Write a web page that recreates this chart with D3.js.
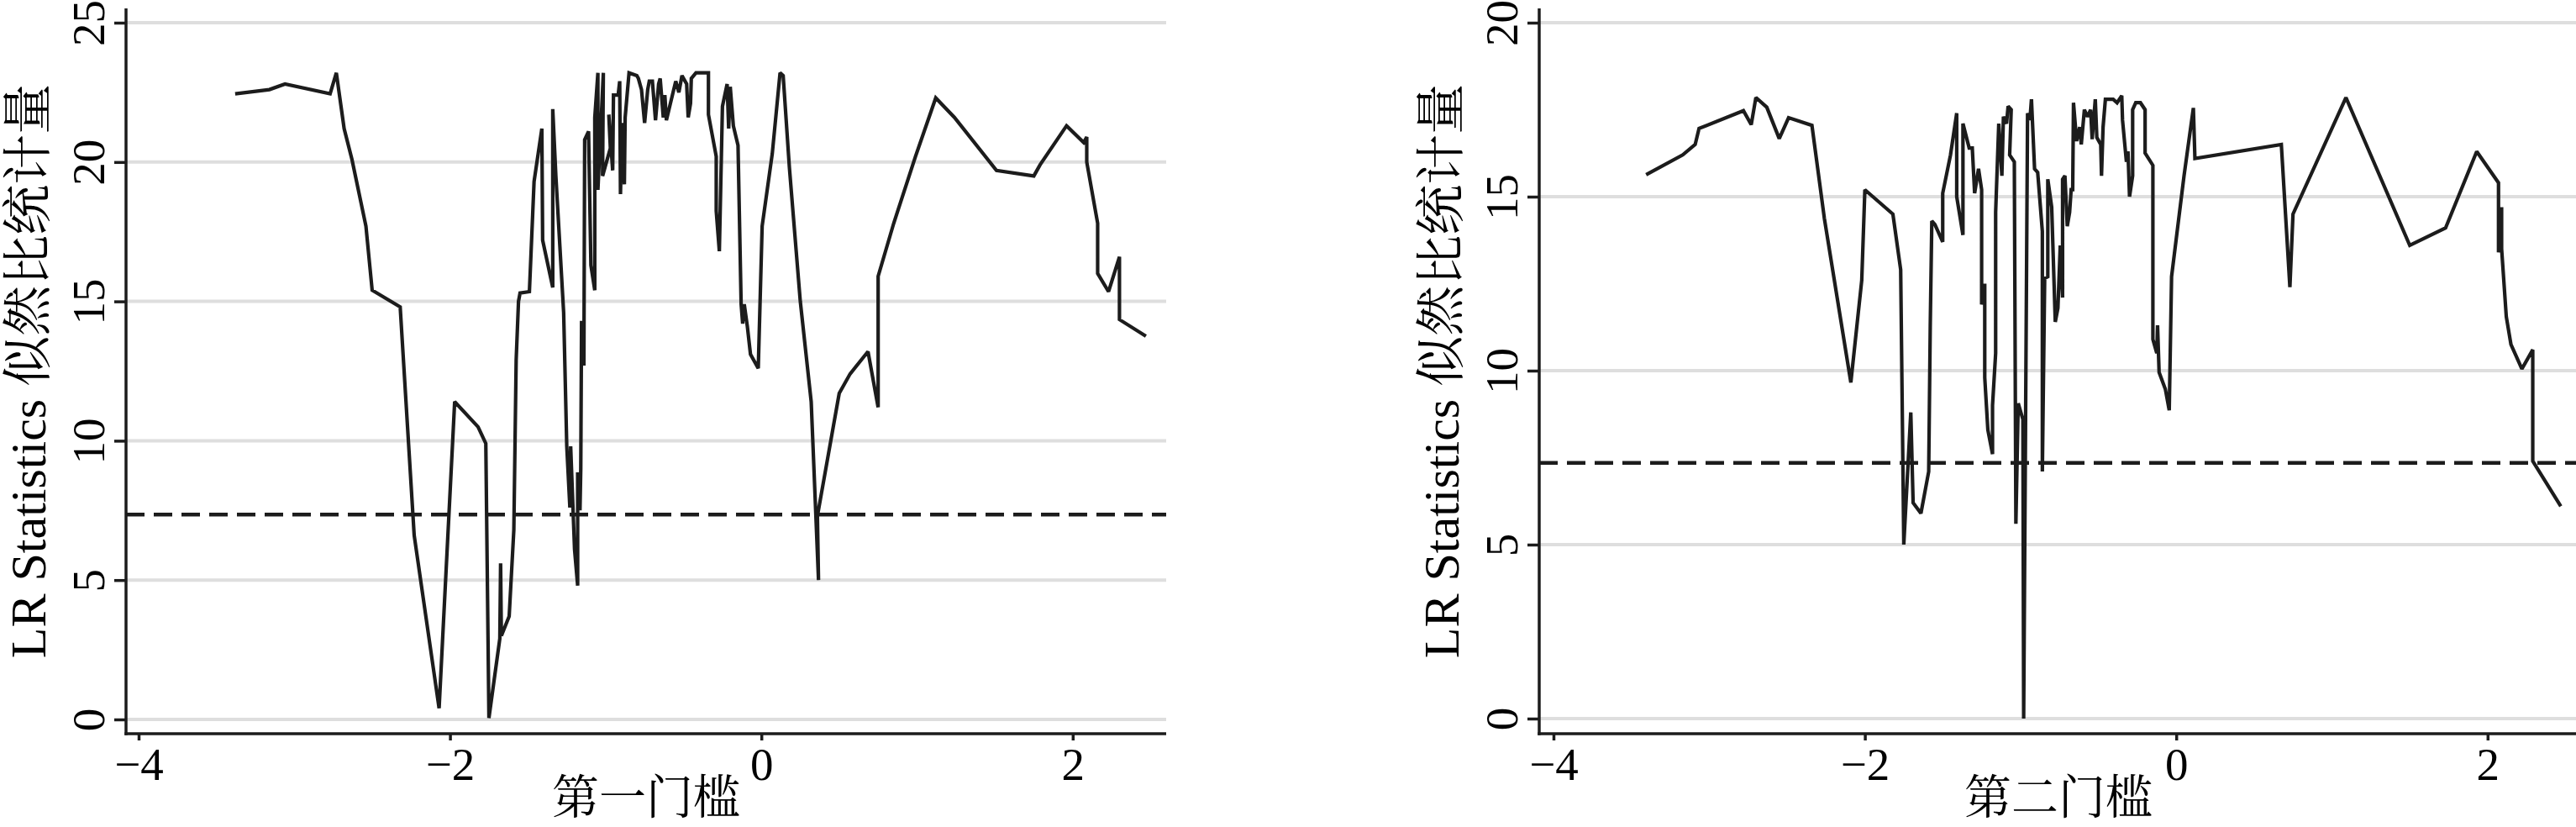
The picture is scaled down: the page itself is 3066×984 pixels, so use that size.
<!DOCTYPE html>
<html><head><meta charset="utf-8">
<script src="https://cdn.jsdelivr.net/npm/d3@7"></script>
<style>html,body{margin:0;padding:0;background:#fff;} svg{display:block}</style>
</head><body>
<script>
// ---------- data ----------
const xTicks = [-4, -2, 0, 2];
const leftYTicks = [0, 5, 10, 15, 20, 25];
const rightYTicks = [0, 5, 10, 15, 20];
const threshold = 7.35;
const yTitle = "LR Statistics 似然比统计量";
const leftXTitle = "第一门槛";
const rightXTitle = "第二门槛";

const leftX = [
 -3.38,-3.16,-3.06,-2.77,-2.73,-2.68,-2.63,-2.54,-2.50,-2.32,
 -2.23,-2.07,-1.97,-1.82,-1.77,-1.75,-1.68,-1.675,-1.67,-1.62,
 -1.59,-1.575,-1.56,-1.55,-1.49,-1.46,-1.41,-1.405,-1.34,-1.34,
 -1.32,-1.27,-1.25,-1.23,-1.225,-1.20,-1.18,-1.18,-1.17,-1.165,
 -1.16,-1.155,-1.14,-1.135,-1.11,-1.095,-1.07,-1.07,-1.05,-1.05,
 -1.015,-1.02,-0.97,-0.98,-0.955,-0.95,-0.92,-0.91,-0.905,-0.895,
 -0.88,-0.875,-0.85,-0.80,-0.79,-0.77,-0.75,-0.73,-0.72,-0.70,
 -0.68,-0.66,-0.65,-0.63,-0.62,-0.61,-0.58,-0.55,-0.53,-0.51,
 -0.48,-0.47,-0.455,-0.45,-0.42,-0.34,-0.34,-0.29,-0.29,-0.27,
 -0.25,-0.22,-0.21,-0.20,-0.18,-0.15,-0.13,-0.12,-0.11,-0.09,
 -0.07,-0.02,0.005,0.07,0.12,0.14,0.18,0.25,0.32,0.367,
 0.36,0.50,0.57,0.685,0.75,0.75,0.85,0.99,1.12,1.24,
 1.51,1.75,1.79,1.96,2.07,2.09,2.09,2.16,2.16,2.23,
 2.30,2.30,2.47
];
const leftY = [
 22.45,22.6,22.8,22.45,23.2,21.2,20.1,17.7,15.4,14.8,
 6.6,0.4,11.4,10.5,9.9,0.05,2.9,5.6,3.0,3.7,
 6.8,12.9,15.0,15.3,15.35,19.3,21.2,17.2,15.5,21.9,
 19.5,14.6,9.8,7.6,9.8,6.1,4.8,8.8,8.8,7.5,
 9.0,14.3,12.7,20.8,21.1,16.3,15.4,21.6,23.2,19.0,
 23.2,19.5,20.5,21.7,19.7,22.4,22.4,22.9,18.85,21.4,
 19.2,21.6,23.2,23.1,23.0,22.6,21.4,22.6,22.9,22.9,
 21.5,22.8,23.0,21.6,22.4,21.5,22.2,22.9,22.5,23.1,
 22.8,21.6,22.1,23.0,23.2,23.2,21.7,20.2,18.25,16.8,
 22.0,22.8,21.2,22.7,21.3,20.6,14.9,14.2,14.9,14.1,
 13.1,12.6,17.7,20.3,23.2,23.1,19.8,15.0,11.4,5.0,
 7.3,11.7,12.4,13.2,11.2,15.9,17.8,20.2,22.3,21.6,
 19.7,19.5,19.9,21.3,20.7,20.9,20.0,17.8,16.0,15.35,
 16.6,14.35,13.75
];

const rightX = [
 -3.405,-3.17,-3.09,-3.065,-2.78,-2.73,-2.70,-2.63,-2.55,-2.49,
 -2.34,-2.26,-2.09,-2.02,-2.00,-1.82,-1.77,-1.75,-1.705,-1.69,
 -1.64,-1.59,-1.58,-1.57,-1.55,-1.50,-1.50,-1.45,-1.41,-1.41,
 -1.37,-1.37,-1.33,-1.31,-1.295,-1.27,-1.25,-1.25,-1.23,-1.23,
 -1.21,-1.18,-1.18,-1.16,-1.16,-1.14,-1.12,-1.11,-1.09,-1.08,
 -1.06,-1.07,-1.04,-1.03,-1.015,-0.985,-0.98,-0.955,-0.94,-0.93,
 -0.91,-0.89,-0.86,-0.86,-0.845,-0.825,-0.825,-0.80,-0.777,-0.76,
 -0.745,-0.73,-0.73,-0.715,-0.70,-0.685,-0.675,-0.665,-0.66,-0.64,
 -0.62,-0.61,-0.59,-0.57,-0.55,-0.54,-0.52,-0.51,-0.485,-0.48,
 -0.47,-0.455,-0.405,-0.38,-0.35,-0.345,-0.32,-0.31,-0.30,-0.28,
 -0.28,-0.26,-0.23,-0.20,-0.20,-0.15,-0.15,-0.125,-0.12,-0.11,
 -0.07,-0.045,-0.03,0.05,0.11,0.12,0.675,0.73,0.75,1.09,
 1.50,1.73,1.93,2.07,2.07,2.09,2.09,2.12,2.15,2.22,
 2.29,2.29,2.47
];
const rightY = [
 15.63,16.2,16.5,16.96,17.47,17.07,17.85,17.57,16.67,17.27,
 17.05,14.37,9.66,12.6,15.2,14.5,12.9,5.0,8.8,6.2,
 5.9,7.1,11.3,14.3,14.2,13.7,15.1,16.2,17.4,15.0,
 13.9,17.1,16.4,16.4,15.1,15.8,15.2,11.9,12.5,9.8,
 8.3,7.6,9.0,10.5,14.55,17.1,15.6,17.3,17.1,17.6,
 17.5,16.2,16.0,5.6,9.06,8.6,0.0,17.4,17.2,17.8,
 15.8,15.7,14.0,7.1,12.65,12.7,15.5,14.7,11.4,11.8,
 13.6,12.1,15.5,15.6,14.15,14.55,15.2,15.2,17.7,16.6,
 17.0,16.5,17.5,17.3,17.5,16.65,17.8,16.7,16.5,15.6,
 17.0,17.8,17.8,17.7,17.9,17.2,16.0,16.3,15.0,15.6,
 17.5,17.7,17.7,17.5,16.25,15.9,10.9,10.5,11.3,9.95,
 9.47,8.86,12.7,15.6,17.55,16.1,16.5,12.4,14.5,17.85,
 13.6,14.1,16.3,15.4,13.4,14.7,13.5,11.55,10.75,10.05,
 10.6,7.4,6.1
];

// ---------- drawing ----------
const W = 3066, H = 984;
const FONT = "'Liberation Serif','Times New Roman','Noto Serif CJK SC','Noto Sans CJK SC',serif";
const INK = "#1c1c1c";
const svg = d3.select("body").append("svg").attr("width", W).attr("height", H)
  .style("background", "#fff");

function panel(o) {
  const g = svg.append("g");
  const x = d3.scaleLinear().domain([-4, 2]).range([o.x0, o.x0 + 6 * 185.3]);
  const y = d3.scaleLinear().domain([0, o.yMax]).range([o.y0, 27]);
  const top = 10, axisY = 873;

  // gridlines
  g.selectAll(".grid").data(o.yTicks).join("line")
    .attr("x1", o.axisX).attr("x2", o.right)
    .attr("y1", d => y(d)).attr("y2", d => y(d))
    .attr("stroke", "#dedede").attr("stroke-width", 4);

  // threshold dashed line
  g.append("line")
    .attr("x1", o.axisX).attr("x2", o.right)
    .attr("y1", y(threshold)).attr("y2", y(threshold))
    .attr("stroke", INK).attr("stroke-width", 4.5)
    .attr("stroke-dasharray", "22,11");

  // data line
  const pts = o.xs.map((v, i) => [v, o.ys[i]]);
  g.append("path").datum(pts)
    .attr("d", d3.line().x(d => x(d[0])).y(d => y(d[1])))
    .attr("fill", "none").attr("stroke", INK).attr("stroke-width", 4.2)
    .attr("stroke-linejoin", "miter").attr("stroke-miterlimit", 2);

  // y axis
  const ya = g.append("g").attr("transform", `translate(${o.axisX},0)`)
    .call(d3.axisLeft(y).tickValues(o.yTicks).tickSize(14).tickFormat(d3.format("d")));
  ya.select(".domain").remove();
  ya.selectAll(".tick line").attr("stroke", INK).attr("stroke-width", 3.5);
  ya.selectAll(".tick text")
    .attr("x", null).attr("dy", null).attr("y", null)
    .attr("text-anchor", "middle")
    .attr("transform", "translate(-26,0) rotate(-90)")
    .style("font-family", FONT).style("font-size", "55px").attr("fill", "#000");
  g.append("line").attr("x1", o.axisX).attr("x2", o.axisX)
    .attr("y1", top).attr("y2", axisY + 1.75)
    .attr("stroke", INK).attr("stroke-width", 3.5);

  // x axis
  const xa = g.append("g").attr("transform", `translate(0,${axisY})`)
    .call(d3.axisBottom(x).tickValues(xTicks).tickSize(8).tickFormat(d3.format("d")));
  xa.select(".domain").remove();
  xa.selectAll(".tick line").attr("stroke", INK).attr("stroke-width", 3.5);
  xa.selectAll(".tick text")
    .attr("y", 55).attr("dy", null)
    .style("font-family", FONT).style("font-size", "55px").attr("fill", "#000");
  g.append("line").attr("x1", o.axisX - 1.75).attr("x2", o.right)
    .attr("y1", axisY).attr("y2", axisY)
    .attr("stroke", INK).attr("stroke-width", 3.5);

  // titles
  g.append("text")
    .attr("transform", `translate(${o.axisX - 96},${(top + axisY) / 2}) rotate(-90)`)
    .attr("text-anchor", "middle")
    .style("font-family", FONT).style("font-size", "60px").attr("fill", "#000")
    .text(yTitle);
  g.append("text")
    .attr("x", (o.axisX + o.right) / 2).attr("y", 968)
    .attr("text-anchor", "middle")
    .style("font-family", FONT).style("font-size", "56px").attr("fill", "#000")
    .text(o.xTitle);
}

panel({ axisX: 150, right: 1388, x0: 165, y0: 856, yMax: 25,
        yTicks: leftYTicks, xs: leftX, ys: leftY, xTitle: leftXTitle });
panel({ axisX: 1832, right: 3068, x0: 1849, y0: 855, yMax: 20,
        yTicks: rightYTicks, xs: rightX, ys: rightY, xTitle: rightXTitle });
</script>
</body></html>
